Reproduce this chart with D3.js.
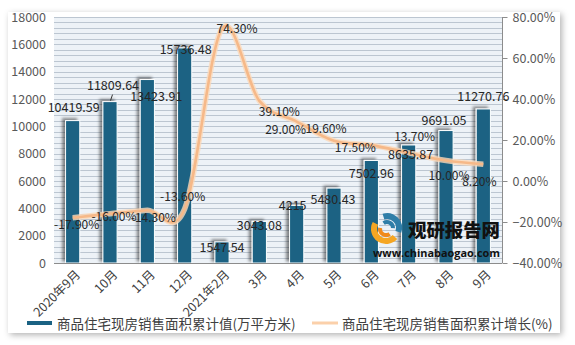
<!DOCTYPE html>
<html><head><meta charset="utf-8">
<script src="https://cdn.jsdelivr.net/npm/d3@7"></script>
<style>
html,body{margin:0;padding:0;background:#fff;}
text{font-family:"Noto Sans CJK SC","Noto Sans",sans-serif;}
</style></head>
<body>
<svg id="chart" width="575" height="345"></svg>
<script>
// ---- data ----
const categories = ["2020年9月","10月","11月","12月","2021年2月","3月","4月","5月","6月","7月","8月","9月"];
const areaValues = [10419.59,11809.64,13423.91,15736.48,1547.54,3043.08,4215,5480.43,7502.96,8635.87,9691.05,11270.76];
const growthValues = [-17.90,-16.00,-14.30,-13.60,74.30,39.10,29.00,19.60,17.50,13.70,10.00,8.20];
const leftTicks = [0,2000,4000,6000,8000,10000,12000,14000,16000,18000];
const rightTicks = [-40,-20,0,20,40,60,80];
const barSeriesName = "商品住宅现房销售面积累计值(万平方米)";
const lineSeriesName = "商品住宅现房销售面积累计增长(%)";

// label nudges (pixels) copied from the reference layout
const barLabelNudge = [[1,-14],[3,-17],[9,16],[1,1],[0,5],[0,3],[-4,-1],[-1,10],[0,12],[2,9],[-2,-11],[0,-13]];
const lineLabelNudge = [[4,6],[4,2],[6,6],[-2,-13],[15,-1],[20,10],[-11,7],[-8,-13],[-16,1],[6,-17],[3,14],[-4,16]];

const svg = d3.select("#chart");
const defs = svg.append("defs");
const fs = defs.append("filter").attr("id","frameShadow").attr("x","-5%").attr("y","-5%").attr("width","110%").attr("height","110%");
fs.append("feDropShadow").attr("dx",2).attr("dy",2).attr("stdDeviation",3).attr("flood-color","#000").attr("flood-opacity",0.3);
const bs = defs.append("filter").attr("id","barShadow").attr("x","-60%").attr("y","-20%").attr("width","200%").attr("height","140%");
bs.append("feDropShadow").attr("dx",-3).attr("dy",-2).attr("stdDeviation",1.6).attr("flood-color","#000").attr("flood-opacity",0.45);

// outer frame
svg.append("rect").attr("x",8).attr("y",12).attr("width",552).attr("height",321)
  .attr("fill","#fff").attr("filter","url(#frameShadow)");

const L = 54, R = 502, T = 17, B = 263;
const x = d3.scaleBand().domain(categories).range([L,R]).paddingInner(0.62).paddingOuter(0.31);
const yL = d3.scaleLinear().domain([0,18000]).range([B,T]);
const yR = d3.scaleLinear().domain([-40,80]).range([B,T]);

// plot background + dense gridlines
svg.append("rect").attr("x",L).attr("y",T).attr("width",R-L).attr("height",B-T).attr("fill","#edf2f7");
svg.append("g").selectAll("line").data(d3.range(400,18000,400)).join("line")
  .attr("x1",L).attr("x2",R).attr("y1",d=>Math.round(yL(d))+0.5).attr("y2",d=>Math.round(yL(d))+0.5)
  .attr("stroke","#bcc6d1").attr("stroke-width",1);
svg.append("line").attr("x1",L).attr("x2",R).attr("y1",T+0.5).attr("y2",T+0.5).attr("stroke","#bcc6d1");

// bars
svg.append("g").selectAll("rect").data(areaValues).join("rect")
  .attr("x",(d,i)=>x(categories[i])).attr("width",x.bandwidth())
  .attr("y",d=>yL(d)).attr("height",d=>B-yL(d))
  .attr("fill","#1a6283").attr("stroke","#fff").attr("stroke-width",1)
  .attr("filter","url(#barShadow)");

// axes lines
svg.append("line").attr("x1",L).attr("x2",R).attr("y1",B+0.5).attr("y2",B+0.5).attr("stroke","#8c8c8c");
const rAxis = d3.axisRight(yR).tickValues(rightTicks).tickSize(5).tickFormat(d=>d3.format(".2f")(d)+"%");
const gR = svg.append("g").attr("transform",`translate(${R+0.5},0)`).call(rAxis);
gR.select(".domain").attr("stroke","#8c8c8c").attr("d",`M0,${T}V${B}`);
gR.selectAll(".tick line").attr("stroke","#8c8c8c");
gR.selectAll(".tick text").attr("x",10).attr("fill","#595959").attr("font-size",12.5).style("font-family",'"Noto Sans CJK SC",sans-serif');

const lAxis = d3.axisLeft(yL).tickValues(leftTicks).tickSize(0).tickFormat(d3.format("d"));
const gL = svg.append("g").attr("transform",`translate(${L},0)`).call(lAxis);
gL.select(".domain").remove();
gL.selectAll(".tick text").attr("x",-8).attr("fill","#595959").attr("font-size",12.5).style("font-family",'"Noto Sans CJK SC",sans-serif');

// x labels rotated
svg.append("g").selectAll("text").data(categories).join("text")
  .attr("transform",d=>`translate(${x(d)+x.bandwidth()/2+6},${B+10}) rotate(-45)`)
  .attr("text-anchor","end").attr("dominant-baseline","middle")
  .attr("font-size",12.5).attr("fill","#404040").text(d=>d);

// smooth line
const line = d3.line().x((d,i)=>x(categories[i])+x.bandwidth()/2).y(d=>yR(d)).curve(d3.curveCatmullRom.alpha(0));
svg.append("path").datum(growthValues).attr("d",line).attr("fill","none")
  .attr("stroke","#fbd8b8").attr("stroke-width",5.5).attr("stroke-linejoin","round").attr("opacity",0.8);
svg.append("path").datum(growthValues).attr("d",line).attr("fill","none")
  .attr("stroke","#f6b989").attr("stroke-width",2.6).attr("stroke-linejoin","round");

// watermark logo
const wm = svg.append("g");
wm.append("path").attr("d",d3.arc()({innerRadius:9,outerRadius:15,startAngle:-0.3,endAngle:1.9}))
  .attr("transform","translate(387,228)").attr("fill","#2f7ea8");
wm.append("path").attr("d",d3.arc()({innerRadius:4,outerRadius:8,startAngle:-0.6,endAngle:1.6}))
  .attr("transform","translate(387,228)").attr("fill","#2f7ea8");
wm.append("path").attr("d",d3.arc()({innerRadius:9,outerRadius:15,startAngle:2.3,endAngle:5.2}))
  .attr("transform","translate(386,229)").attr("fill","#f5a623");
wm.append("path").attr("d",d3.arc()({innerRadius:4,outerRadius:8,startAngle:2.5,endAngle:4.9}))
  .attr("transform","translate(386,229)").attr("fill","#f08a1c");
wm.append("text").attr("x",408).attr("y",237).attr("font-size",18.4).attr("font-weight",900)
  .attr("textLength",92).attr("lengthAdjust","spacingAndGlyphs").attr("fill","#111").text("观研报告网");
wm.append("text").attr("x",373).attr("y",257).attr("font-size",11).attr("font-weight",700)
  .attr("textLength",127).attr("lengthAdjust","spacingAndGlyphs").attr("fill","#111")
  .style("font-family",'"Open Sans","DejaVu Sans",sans-serif').text("www.chinabaogao.com");

// bar data labels
const lblFmt = v => (Number.isInteger(v) ? String(v) : v.toFixed(2));
svg.append("g").selectAll("text").data(areaValues).join("text")
  .attr("x",(d,i)=>x(categories[i])+x.bandwidth()/2+barLabelNudge[i][0])
  .attr("y",(d,i)=>yL(d)+barLabelNudge[i][1])
  .attr("text-anchor","middle").attr("dominant-baseline","central")
  .attr("font-size",12.5).attr("fill","#262626").text(lblFmt);
// leader for the 10月 label
svg.append("line")
  .attr("x1",x(categories[1])+x.bandwidth()/2+0.5).attr("y1",yL(areaValues[1])-1)
  .attr("x2",x(categories[1])+x.bandwidth()/2+2.5).attr("y2",yL(areaValues[1])-7)
  .attr("stroke","#333").attr("stroke-width",1);

// line data labels
svg.append("g").selectAll("text").data(growthValues).join("text")
  .attr("x",(d,i)=>x(categories[i])+x.bandwidth()/2+lineLabelNudge[i][0])
  .attr("y",(d,i)=>yR(d)+lineLabelNudge[i][1])
  .attr("text-anchor","middle").attr("dominant-baseline","central")
  .attr("font-size",12).attr("fill","#262626").text(d=>d.toFixed(2)+"%");

// legend
const lg = svg.append("g");
lg.append("rect").attr("x",27).attr("y",321).attr("width",25).attr("height",4).attr("fill","#1a6283");
lg.append("text").attr("x",57).attr("y",323).attr("dominant-baseline","central").attr("font-size",13.5)
  .attr("fill","#404040").text(barSeriesName);
lg.append("line").attr("x1",312).attr("x2",338).attr("y1",323).attr("y2",323).attr("stroke","#fbd0aa").attr("stroke-width",3);
lg.append("text").attr("x",342).attr("y",323).attr("dominant-baseline","central").attr("font-size",13.5)
  .attr("fill","#404040").text(lineSeriesName);
</script>
</body></html>
